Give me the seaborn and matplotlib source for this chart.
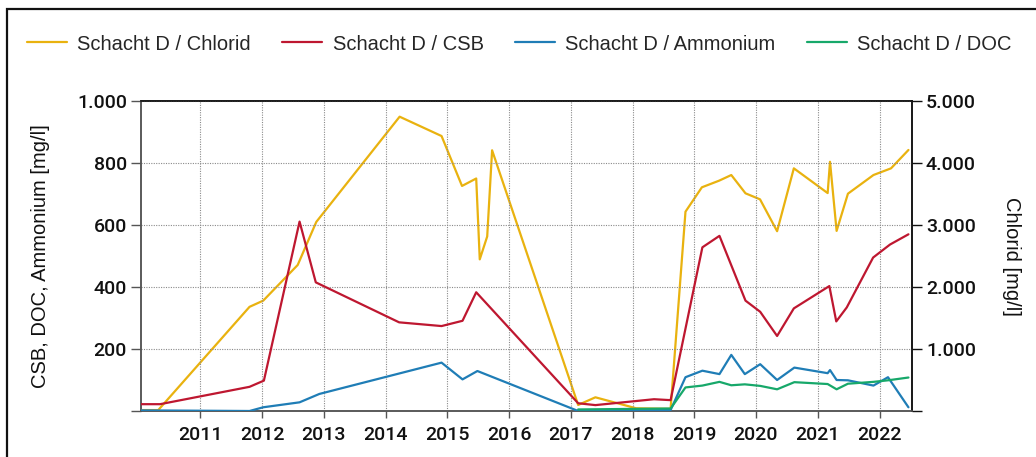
import matplotlib
matplotlib.use("Agg")
import matplotlib.pyplot as plt
import matplotlib.dates as mdates
from matplotlib.ticker import FixedLocator, FuncFormatter
from matplotlib.font_manager import FontProperties
from matplotlib.patches import Rectangle
import seaborn as sns
import pandas as pd

# --- measurement series (Schacht D) ---
chlorid_dates = ["2010-01-15", "2010-04-27", "2011-10-19", "2012-01-08", "2012-07-30",
                 "2012-11-17", "2014-03-25", "2014-11-28", "2015-03-29", "2015-06-21",
                 "2015-07-12", "2015-08-25", "2015-09-23", "2017-02-13", "2017-05-26",
                 "2018-01-22", "2018-08-14", "2018-11-10", "2019-02-15", "2019-05-28",
                 "2019-08-08", "2019-10-31", "2020-01-25", "2020-05-05", "2020-08-12",
                 "2021-02-28", "2021-03-14", "2021-04-22", "2021-06-28", "2021-11-26",
                 "2022-03-10", "2022-06-21"]
chlorid_values = [15, 15, 1680, 1780, 2355, 3050, 4747, 4435, 3630, 3750,
                  2446, 2815, 4205, 97, 221, 44, 35, 3215, 3608, 3715,
                  3806, 3511, 3414, 2900, 3914, 3515, 4020, 2905, 3505, 3806,
                  3914, 4210]

csb_dates = ["2010-01-15", "2010-05-08", "2011-10-19", "2012-01-12", "2012-08-10",
             "2012-11-14", "2014-03-22", "2014-11-28", "2015-04-01", "2015-06-21",
             "2017-02-13", "2017-05-26", "2018-05-08", "2018-08-14", "2019-02-18",
             "2019-05-30", "2019-10-31", "2020-01-26", "2020-05-05", "2020-08-12",
             "2021-03-10", "2021-04-20", "2021-06-21", "2021-11-24", "2022-03-04",
             "2022-06-21"]
csb_values = [22, 22, 78, 98, 611, 415, 286, 274, 291, 383,
              25, 19, 38, 35, 528, 565, 356, 320, 242, 331,
              403, 289, 334, 495, 537, 570]

ammonium_dates = ["2010-01-15", "2011-10-19", "2012-01-08", "2012-08-10", "2012-12-05",
                  "2014-11-28", "2015-04-01", "2015-06-28", "2017-02-13", "2018-08-14",
                  "2018-11-10", "2019-02-18", "2019-05-30", "2019-08-08", "2019-10-27",
                  "2020-01-26", "2020-05-05", "2020-08-15", "2021-02-28", "2021-03-14",
                  "2021-04-22", "2021-06-28", "2021-11-26", "2022-02-20", "2022-06-21"]
ammonium_values = [2, 0, 12, 28, 55, 156, 102, 129, 0, 3,
                   109, 130, 119, 181, 119, 151, 100, 140, 122, 132,
                   100, 99, 82, 109, 12]

doc_dates = ["2017-02-13", "2018-08-14", "2018-11-10", "2019-02-18", "2019-05-30",
             "2019-08-08", "2019-10-27", "2020-01-26", "2020-05-05", "2020-08-15",
             "2021-02-28", "2021-04-22", "2021-06-28", "2021-11-26", "2022-02-20",
             "2022-06-21"]
doc_values = [5, 8, 76, 82, 94, 83, 86, 81, 70, 93,
              87, 70, 88, 94, 99, 108]

series_names = ["Schacht D / Chlorid", "Schacht D / CSB",
                "Schacht D / Ammonium", "Schacht D / DOC"]
palette = {
    "Schacht D / Chlorid": "#E9B20F",
    "Schacht D / CSB": "#BE1730",
    "Schacht D / Ammonium": "#1F7DB6",
    "Schacht D / DOC": "#17A86A",
}

left_ticks = [0, 200, 400, 600, 800, 1000]
right_ticks = [0, 1000, 2000, 3000, 4000, 5000]

# --- frames ---
left_df = pd.concat([
    pd.DataFrame({"date": pd.to_datetime(csb_dates), "value": csb_values, "series": series_names[1]}),
    pd.DataFrame({"date": pd.to_datetime(ammonium_dates), "value": ammonium_values, "series": series_names[2]}),
    pd.DataFrame({"date": pd.to_datetime(doc_dates), "value": doc_values, "series": series_names[3]}),
], ignore_index=True)
chlorid_df = pd.DataFrame({"date": pd.to_datetime(chlorid_dates), "value": chlorid_values,
                           "series": series_names[0]})

sns.set_theme(style="white")
plt.rcParams["font.family"] = ["Liberation Sans", "DejaVu Sans"]

W, H = 1036, 457
fig = plt.figure(figsize=(W / 100, H / 100), dpi=100)
ax = fig.add_axes([141 / W, 1 - 411 / H, (912 - 141) / W, (411 - 101) / H])
ax2 = ax.twinx()

lw = 1.6
sns.lineplot(data=left_df, x="date", y="value", hue="series", palette=palette,
             hue_order=series_names[1:], estimator=None, sort=True,
             linewidth=lw, ax=ax, legend=False, zorder=3)
sns.lineplot(data=chlorid_df, x="date", y="value", hue="series", palette=palette,
             estimator=None, sort=True, linewidth=lw, ax=ax2, legend=False, zorder=3)

# left-axis series drawn above the chlorid curve
ax.set_zorder(ax2.get_zorder() + 1)
ax.patch.set_visible(False)

xmin = min(pd.to_datetime(chlorid_dates).min(), left_df["date"].min())
xmax = pd.Timestamp("2022-07-12")
ax.set_xlim(xmin, xmax)
ax.set_ylim(0, 1000)
ax2.set_ylim(0, 5000)

thousands = lambda v, p: "" if v == 0 else f"{v:,.0f}".replace(",", ".")
ax.yaxis.set_major_locator(FixedLocator(left_ticks))
ax.yaxis.set_major_formatter(FuncFormatter(thousands))
ax2.yaxis.set_major_locator(FixedLocator(right_ticks))
ax2.yaxis.set_major_formatter(FuncFormatter(thousands))
ax.xaxis.set_major_locator(mdates.YearLocator())
ax.xaxis.set_major_formatter(mdates.DateFormatter("%Y"))

tick_font = FontProperties(family=["Roboto", "DejaVu Sans"], size=14, weight="medium")
for lbl in ax.get_xticklabels() + ax.get_yticklabels() + ax2.get_yticklabels():
    lbl.set_fontproperties(tick_font)
    lbl.set_color("#111111")

ax.grid(True, axis="both", linestyle=(0, (1, 1.2)), color="#8a8a8a", linewidth=0.8)
ax2.grid(False)
ax.tick_params(axis="y", direction="out", length=7, width=1, color="#555555", pad=3, left=True)
ax.tick_params(axis="x", direction="out", length=5, width=1, color="#555555", pad=6, bottom=True)
ax2.tick_params(axis="y", direction="out", length=7, width=1, color="#111111", pad=3, right=True)

for a in (ax, ax2):
    a.spines["left"].set_color("#555555")
    a.spines["bottom"].set_color("#555555")
    a.spines["top"].set_color("#111111")
    a.spines["right"].set_color("#111111")
    for s in a.spines.values():
        s.set_linewidth(1.1)
        s.set_visible(True)

ax.set_xlabel("")
ax.set_ylabel("CSB, DOC, Ammonium [mg/l]", fontsize=14.5, color="#111111")
ax2.set_ylabel("Chlorid [mg/l]", fontsize=14.5, color="#111111", rotation=270)
ax.yaxis.set_label_coords(-(141 - 50) / 771, 0.5)
ax2.yaxis.set_label_coords(1 + (1021 - 912) / 771, 0.5)

# legend across the top
handles = [plt.Line2D([], [], color=palette[n], linewidth=lw) for n in series_names]
fig.legend(handles, series_names, loc="center left", bbox_to_anchor=(27 / W, 1 - 44 / H),
           ncol=4, frameon=False, fontsize=14.5, handlelength=2.0, handletextpad=0.5,
           columnspacing=1.55, borderaxespad=0, borderpad=0)

# outer frame
fig.patches.append(Rectangle((7 / W, -0.1), 1.2, 1.1 - 9 / H, transform=fig.transFigure,
                             fill=False, edgecolor="#111111", linewidth=1.6))

fig.savefig("out.png", dpi=100)
